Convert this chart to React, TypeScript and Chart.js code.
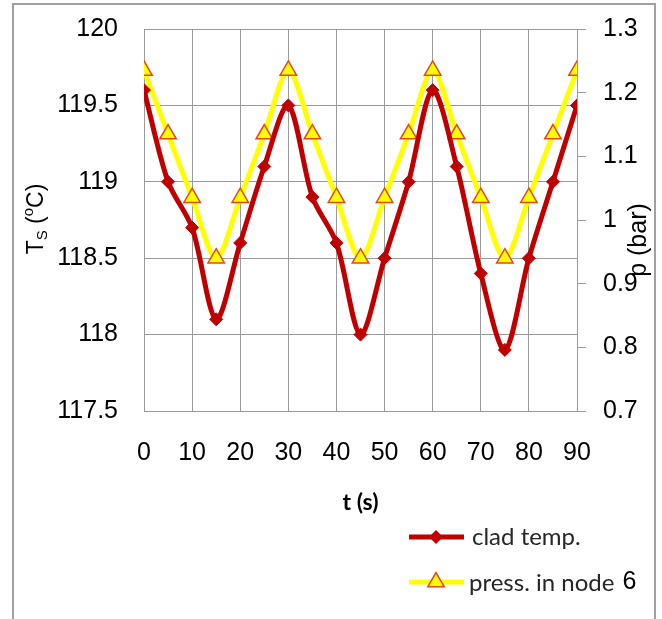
import React, { useEffect, useRef } from "react";
import { Chart, registerables } from "chart.js";

Chart.register(...registerables);

const times = [0, 5, 10, 15, 20, 25, 30, 35, 40, 45, 50, 55, 60, 65, 70, 75, 80, 85, 90];
const cladTemp = [119.6, 119.0, 118.7, 118.1, 118.6, 119.1, 119.5, 118.9, 118.6, 118.0, 118.5, 119.0, 119.6, 119.1, 118.4, 117.9, 118.5, 119.0, 119.5];
const pressure = [1.235, 1.135, 1.035, 0.94, 1.035, 1.135, 1.235, 1.135, 1.035, 0.94, 1.035, 1.135, 1.235, 1.135, 1.035, 0.94, 1.035, 1.135, 1.235];
const xTicks = [0, 10, 20, 30, 40, 50, 60, 70, 80, 90];
const tempTicks = [117.5, 118, 118.5, 119, 119.5, 120];
const pressTicks = [0.7, 0.8, 0.9, 1.0, 1.1, 1.2, 1.3];
const seriesNames = ["clad temp.", "press. in node "];

const RED = "#c00000";
const YELLOW = "#ffff00";
const TRI_BORDER = "#e0481c";
const GRID = "#9a9a9a";
const TICK_FONT = '"Liberation Sans", Arial, sans-serif';

function drawDiamond(ctx: CanvasRenderingContext2D, x: number, y: number, r: number) {
  ctx.beginPath();
  ctx.moveTo(x, y - r);
  ctx.lineTo(x + r, y);
  ctx.lineTo(x, y + r);
  ctx.lineTo(x - r, y);
  ctx.closePath();
  ctx.fillStyle = RED;
  ctx.fill();
}

function drawTriangle(ctx: CanvasRenderingContext2D, x: number, y: number, r: number) {
  const h = r * Math.cos(Math.PI / 6);
  ctx.beginPath();
  ctx.moveTo(x, y - r);
  ctx.lineTo(x + h, y + r / 2);
  ctx.lineTo(x - h, y + r / 2);
  ctx.closePath();
  ctx.fillStyle = YELLOW;
  ctx.fill();
  ctx.lineWidth = 1.5;
  ctx.strokeStyle = TRI_BORDER;
  ctx.stroke();
}

const overlayPlugin = {
  id: "overlay",
  afterDraw(chart: any) {
    const ctx: CanvasRenderingContext2D = chart.ctx;
    const a = chart.chartArea;
    ctx.save();

    // x title
    ctx.fillStyle = "#000";
    ctx.font = "bold 23px Lato, sans-serif";
    ctx.textAlign = "center";
    ctx.textBaseline = "middle";
    ctx.fillText("t (s)", (a.left + a.right) / 2, 503);

    // left title: T_S (°C)
    const segs = [
      { t: "T", size: 23, dy: 0 },
      { t: "S", size: 15, dy: 6 },
      { t: " (", size: 23, dy: 0 },
      { t: "o", size: 15, dy: -8 },
      { t: "C)", size: 23, dy: 0 },
    ];
    ctx.save();
    ctx.translate(37, 219);
    ctx.rotate(-Math.PI / 2);
    ctx.textAlign = "left";
    ctx.textBaseline = "middle";
    let total = 0;
    for (const s of segs) {
      ctx.font = `${s.size}px ${TICK_FONT}`;
      total += ctx.measureText(s.t).width;
    }
    let cx = -total / 2;
    for (const s of segs) {
      ctx.font = `${s.size}px ${TICK_FONT}`;
      ctx.fillText(s.t, cx, s.dy);
      cx += ctx.measureText(s.t).width;
    }
    ctx.restore();

    // right title
    ctx.save();
    ctx.translate(639, 240);
    ctx.rotate(-Math.PI / 2);
    ctx.font = `25px ${TICK_FONT}`;
    ctx.textAlign = "center";
    ctx.textBaseline = "middle";
    ctx.fillText("p (bar)", 0, 0);
    ctx.restore();

    // legend
    const lx0 = 409, lx1 = 464, lmid = 436;
    const ly = [537, 582];
    ctx.lineCap = "butt";
    ctx.lineWidth = 5;
    ctx.strokeStyle = RED;
    ctx.beginPath();
    ctx.moveTo(lx0, ly[0]);
    ctx.lineTo(lx1, ly[0]);
    ctx.stroke();
    drawDiamond(ctx, lmid, ly[0], 7);
    ctx.strokeStyle = YELLOW;
    ctx.lineWidth = 5;
    ctx.beginPath();
    ctx.moveTo(lx0, ly[1]);
    ctx.lineTo(lx1, ly[1]);
    ctx.stroke();
    drawTriangle(ctx, lmid, ly[1], 9.5);

    ctx.fillStyle = "#262626";
    ctx.textAlign = "left";
    ctx.textBaseline = "middle";
    ctx.font = "24px Lato, sans-serif";
    ctx.fillText(seriesNames[0], 472, ly[0]);
    ctx.fillText(seriesNames[1], 469, ly[1] + 1);
    const w = ctx.measureText(seriesNames[1]).width;
    ctx.fillStyle = "#000";
    ctx.font = `25px ${TICK_FONT}`;
    ctx.fillText("6", 469 + w + 2, ly[1]);

    ctx.restore();
  },
};

export default function App() {
  const ref = useRef<HTMLCanvasElement | null>(null);

  useEffect(() => {
    if (!ref.current) return;
    const chart = new Chart(ref.current, {
      type: "line",
      data: {
        datasets: [
          {
            label: seriesNames[0],
            data: times.map((t, i) => ({ x: t, y: cladTemp[i] })),
            borderColor: RED,
            backgroundColor: RED,
            borderWidth: 5,
            pointStyle: "rectRot",
            pointRadius: 6.5,
            pointBackgroundColor: RED,
            pointBorderColor: RED,
            pointBorderWidth: 1,
            tension: 0.3,
            yAxisID: "y",
          },
          {
            label: seriesNames[1] + "6",
            data: times.map((t, i) => ({ x: t, y: pressure[i] })),
            borderColor: YELLOW,
            backgroundColor: YELLOW,
            borderWidth: 5,
            pointStyle: "triangle",
            pointRadius: 9.5,
            pointBackgroundColor: YELLOW,
            pointBorderColor: TRI_BORDER,
            pointBorderWidth: 1.5,
            tension: 0.3,
            yAxisID: "y1",
          },
        ],
      },
      options: {
        responsive: false,
        animation: false,
        layout: { padding: { top: 29, left: 0, right: 0, bottom: 0 } },
        plugins: { legend: { display: false }, tooltip: { enabled: false } },
        scales: {
          x: {
            type: "linear",
            min: 0,
            max: 90,
            afterBuildTicks: (s: any) => {
              s.ticks = xTicks.map((v) => ({ value: v }));
            },
            afterFit: (s: any) => {
              s.height = 208;
              s.paddingLeft = 0;
              s.paddingRight = 0;
            },
            ticks: {
              padding: 27,
              color: "#000",
              font: { family: TICK_FONT, size: 25 },
              callback: (v: any) => String(v),
              maxRotation: 0,
              autoSkip: false,
            },
            grid: { color: GRID, lineWidth: 1, drawTicks: false },
            border: { color: GRID, width: 1 },
          },
          y: {
            type: "linear",
            position: "left",
            min: 117.5,
            max: 120,
            afterBuildTicks: (s: any) => {
              s.ticks = tempTicks.map((v) => ({ value: v }));
            },
            afterFit: (s: any) => {
              s.width = 144;
              s.paddingTop = 0;
              s.paddingBottom = 0;
            },
            ticks: {
              padding: 26,
              color: "#000",
              font: { family: TICK_FONT, size: 25 },
              callback: (v: any) => String(Number(Number(v).toFixed(2))),
            },
            grid: { color: GRID, lineWidth: 1, drawTicks: false },
            border: { color: GRID, width: 1 },
          },
          y1: {
            type: "linear",
            position: "right",
            min: 0.7,
            max: 1.3,
            afterBuildTicks: (s: any) => {
              s.ticks = pressTicks.map((v) => ({ value: v }));
            },
            afterFit: (s: any) => {
              s.width = 85;
              s.paddingTop = 0;
              s.paddingBottom = 0;
            },
            ticks: {
              padding: 17,
              color: "#000",
              font: { family: TICK_FONT, size: 25 },
              callback: (v: any) => String(Number(Number(v).toFixed(2))),
            },
            grid: { drawOnChartArea: false, drawTicks: true, tickLength: 9, color: GRID, lineWidth: 1 },
            border: { color: GRID, width: 1 },
          },
        },
      },
      plugins: [overlayPlugin],
    } as any);
    return () => chart.destroy();
  }, []);

  return (
    <div style={{ position: "absolute", left: 0, top: 0, width: 662, height: 619, overflow: "hidden", background: "#fff" }}>
      <div
        style={{
          position: "absolute",
          left: 12,
          top: 3,
          width: 644,
          height: 660,
          boxSizing: "border-box",
          border: "2px solid #a0a0a0",
        }}
      />
      <canvas ref={ref} width={662} height={619} style={{ position: "absolute", left: 0, top: 0, display: "block" }} />
    </div>
  );
}
